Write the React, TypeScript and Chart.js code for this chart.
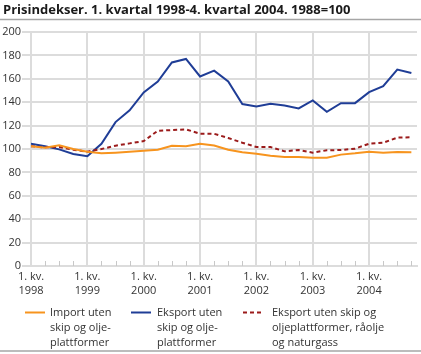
import React, { useEffect, useRef } from "react";
import { Chart, registerables } from "chart.js";
Chart.register(...registerables);

const titleText = "Prisindekser. 1. kvartal 1998-4. kvartal 2004. 1988=100";
const years = ["1998", "1999", "2000", "2001", "2002", "2003", "2004"];
const quarterLabel = "1. kv.";

const importValues = [
  102.3, 101.1, 103.1, 100.0, 97.7, 96.3, 96.9, 97.7, 98.6, 99.4, 102.8, 102.3, 104.5, 103.0,
  99.4, 97.2, 96.0, 94.3, 93.2, 93.2, 92.6, 92.6, 95.2, 96.3, 97.7, 96.9, 97.4, 97.2,
];
const eksportValues = [
  104.5, 102.3, 99.7, 95.7, 93.8, 104.5, 123.0, 133.0, 148.3, 157.7, 174.0, 177.0, 162.0, 167.0,
  157.7, 138.4, 136.4, 138.6, 137.2, 134.7, 141.5, 131.8, 139.2, 139.2, 148.6, 153.7, 167.9, 165.0,
];
const eksportExclValues = [
  102.3, 101.4, 101.7, 99.4, 97.7, 100.0, 102.8, 104.8, 106.8, 115.6, 116.2, 116.8, 113.0, 113.0,
  109.4, 105.4, 101.7, 101.7, 98.0, 99.1, 96.9, 98.9, 99.1, 100.3, 104.5, 105.4, 109.7, 110.0,
];

const legendImport = ["Import uten", "skip og olje-", "plattformer"];
const legendEksport = ["Eksport uten", "skip og olje-", "plattformer"];
const legendEksportExcl = ["Eksport uten skip og", "oljeplattformer, råolje", "og naturgass"];

const ORANGE = "#F7941E";
const BLUE = "#1F3D96";
const RED = "#9B1B1B";
const GRID = "#DCDCDC";
const TEXT = "#333333";
const FONT = "'Open Sans', 'DejaVu Sans', sans-serif";

const decorPlugin = {
  id: "decor",
  afterDraw(chart: any) {
    const ctx = chart.ctx;
    const w = chart.width;
    ctx.save();
    // title
    ctx.fillStyle = "#1a1a1a";
    ctx.font = `bold 13px ${FONT}`;
    ctx.textBaseline = "middle";
    ctx.textAlign = "left";
    ctx.fillText(titleText, 3, 10);
    ctx.strokeStyle = "#A6A6A6";
    ctx.lineWidth = 1.5;
    ctx.beginPath();
    ctx.moveTo(0, 19.5);
    ctx.lineTo(w, 19.5);
    ctx.stroke();
    ctx.beginPath();
    ctx.moveTo(0, 351);
    ctx.lineTo(w, 351);
    ctx.stroke();

    // quarter minor ticks
    const xs = chart.scales.x;
    const bottom = chart.chartArea.bottom;
    ctx.strokeStyle = "#C8C8C8";
    ctx.lineWidth = 1;
    for (let i = 0; i < importValues.length; i++) {
      if (i % 4 === 0) continue;
      const px = Math.round(xs.getPixelForValue(i)) + 0.5;
      ctx.beginPath();
      ctx.moveTo(px, bottom - 5);
      ctx.lineTo(px, bottom);
      ctx.stroke();
    }

    // legend
    const items = [
      { x: 25, color: ORANGE, dash: [] as number[], lines: legendImport, tx: 50 },
      { x: 131, color: BLUE, dash: [] as number[], lines: legendEksport, tx: 157 },
      { x: 243, color: RED, dash: [4, 3], lines: legendEksportExcl, tx: 272 },
    ];
    ctx.font = `11px ${FONT}`;
    ctx.fillStyle = TEXT;
    for (const it of items) {
      ctx.strokeStyle = it.color;
      ctx.lineWidth = 2;
      ctx.setLineDash(it.dash);
      ctx.beginPath();
      ctx.moveTo(it.x, 312.5);
      ctx.lineTo(it.x + 20, 312.5);
      ctx.stroke();
      ctx.setLineDash([]);
      it.lines.forEach((t, k) => ctx.fillText(t, it.tx, 312.5 + k * 15));
    }
    ctx.restore();
  },
};

export default function App() {
  const ref = useRef<HTMLCanvasElement>(null);
  useEffect(() => {
    if (!ref.current) return;
    const mk = (vals: number[]) => vals.map((v, i) => ({ x: i, y: v }));
    const chart = new Chart(ref.current, {
      type: "line",
      data: {
        datasets: [
          {
            label: legendImport.join(" "),
            data: mk(importValues),
            borderColor: ORANGE,
            borderWidth: 2,
            pointRadius: 0,
            tension: 0,
          },
          {
            label: legendEksportExcl.join(" "),
            data: mk(eksportExclValues),
            borderColor: RED,
            borderWidth: 2,
            borderDash: [4, 3],
            pointRadius: 0,
            tension: 0,
          },
          {
            label: legendEksport.join(" "),
            data: mk(eksportValues),
            borderColor: BLUE,
            borderWidth: 2,
            pointRadius: 0,
            tension: 0,
          },
        ],
      },
      options: {
        animation: false,
        responsive: true,
        maintainAspectRatio: false,
        layout: { padding: { top: 32, left: 0, right: 4, bottom: 54 } },
        plugins: { legend: { display: false }, tooltip: { enabled: false }, title: { display: false } },
        scales: {
          x: {
            type: "linear",
            min: 0,
            max: 27.4,
            afterBuildTicks: (scale: any) => {
              scale.ticks = years.map((_, k) => ({ value: k * 4 }));
            },
            afterFit: (scale: any) => {
              scale.height = 34;
            },
            grid: { color: GRID, lineWidth: 2, drawTicks: false },
            border: { color: GRID, width: 2 },
            ticks: {
              autoSkip: false,
              maxRotation: 0,
              padding: 4,
              color: TEXT,
              font: { family: FONT, size: 11, lineHeight: 1.27 },
              callback: (v: any) => [quarterLabel, years[Math.round(Number(v) / 4)]],
            },
          },
          y: {
            min: 0,
            max: 200,
            afterFit: (scale: any) => {
              scale.width = 31;
            },
            grid: { color: GRID, lineWidth: 2, tickLength: 9, drawTicks: true },
            border: { color: GRID, width: 2 },
            ticks: {
              stepSize: 20,
              padding: 1,
              color: TEXT,
              font: { family: FONT, size: 11 },
            },
          },
        },
      },
      plugins: [decorPlugin],
    } as any);
    return () => chart.destroy();
  }, []);
  return (
    <div style={{ position: "absolute", left: 0, top: 0, width: 421, height: 354, background: "#fff" }}>
      <canvas ref={ref} />
    </div>
  );
}
